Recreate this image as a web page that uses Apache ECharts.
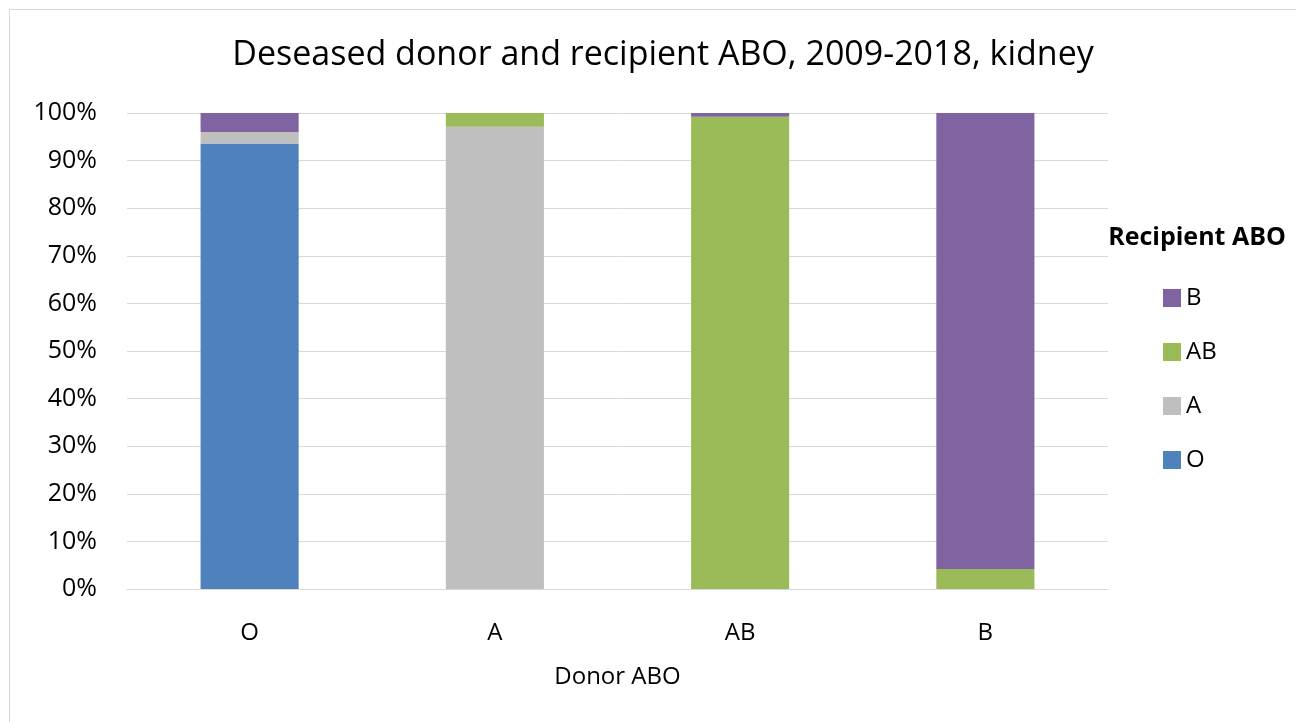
<!DOCTYPE html>
<html>
<head>
<meta charset="utf-8">
<script src="https://cdn.jsdelivr.net/npm/echarts@6/dist/echarts.min.js"></script>
<style>
html,body{margin:0;padding:0;background:#fff;}
#frame{position:absolute;left:9px;top:9px;width:1300px;height:720px;border:1px solid #d9d9d9;box-sizing:border-box;}
#c{position:absolute;left:0;top:0;width:1296px;height:722px;}
</style>
</head>
<body>
<div id="frame"></div>
<div id="c"></div>
<script>
const categories = ['O', 'A', 'AB', 'B'];
const seriesNames = ['O', 'A', 'AB', 'B'];
const valuesO  = [93.6, 0, 0, 0];
const valuesA  = [2.4, 97.1, 0, 0];
const valuesAB = [0, 2.9, 99.2, 4.2];
const valuesB  = [4.0, 0, 0.8, 95.8];
const yTicks = ['0%','10%','20%','30%','40%','50%','60%','70%','80%','90%','100%'];
const colors = ['#4f81bd', '#bfbfbf', '#9bbb59', '#8064a2'];

const font = "'Open Sans', 'Noto Sans', sans-serif";
const chart = echarts.init(document.getElementById('c'), null, {renderer: 'canvas'});
const dataSets = [valuesO, valuesA, valuesAB, valuesB];
chart.setOption({
  animation: false,
  title: [{
    text: 'Deseased donor and recipient ABO, 2009-2018, kidney',
    left: 658, top: 33, textAlign: 'center',
    textStyle: {fontFamily: font, fontSize: 34, fontWeight: 'normal', color: '#000'}
  }, {
    text: 'Recipient ABO',
    left: 1192, top: 220, textAlign: 'center',
    textStyle: {fontFamily: font, fontSize: 25, fontWeight: 'bold', color: '#000'}
  }],
  legend: {
    data: ['B', 'AB', 'A', 'O'],
    orient: 'vertical',
    left: 1158, top: 281,
    itemWidth: 18, itemHeight: 18, itemGap: 30,
    icon: 'rect',
    textStyle: {fontFamily: font, fontSize: 24, color: '#000', padding: [0,0,0,0]}
  },
  grid: {left: 127, right: 188, top: 113, bottom: 133, containLabel: false},
  xAxis: {
    type: 'category', data: categories,
    name: 'Donor ABO', nameLocation: 'middle', nameGap: 76,
    nameTextStyle: {fontFamily: font, fontSize: 24, color: '#000'},
    axisLine: {lineStyle: {color: '#d9d9d9', width: 1}},
    axisTick: {show: false},
    axisLabel: {fontFamily: font, fontSize: 24, color: '#000', margin: 32}
  },
  yAxis: {
    type: 'value', min: 0, max: 100, interval: 10,
    axisLine: {show: false}, axisTick: {show: false},
    splitLine: {lineStyle: {color: '#d9d9d9', width: 1}},
    axisLabel: {fontFamily: font, fontSize: 25, color: '#000', margin: 30,
      formatter: (v) => yTicks[Math.round(v / 10)]}
  },
  series: seriesNames.map((n, i) => ({
    name: n, type: 'bar', stack: 'total',
    data: dataSets[i], barWidth: '40%',
    itemStyle: {color: colors[i]}
  }))
});
</script>
</body>
</html>
